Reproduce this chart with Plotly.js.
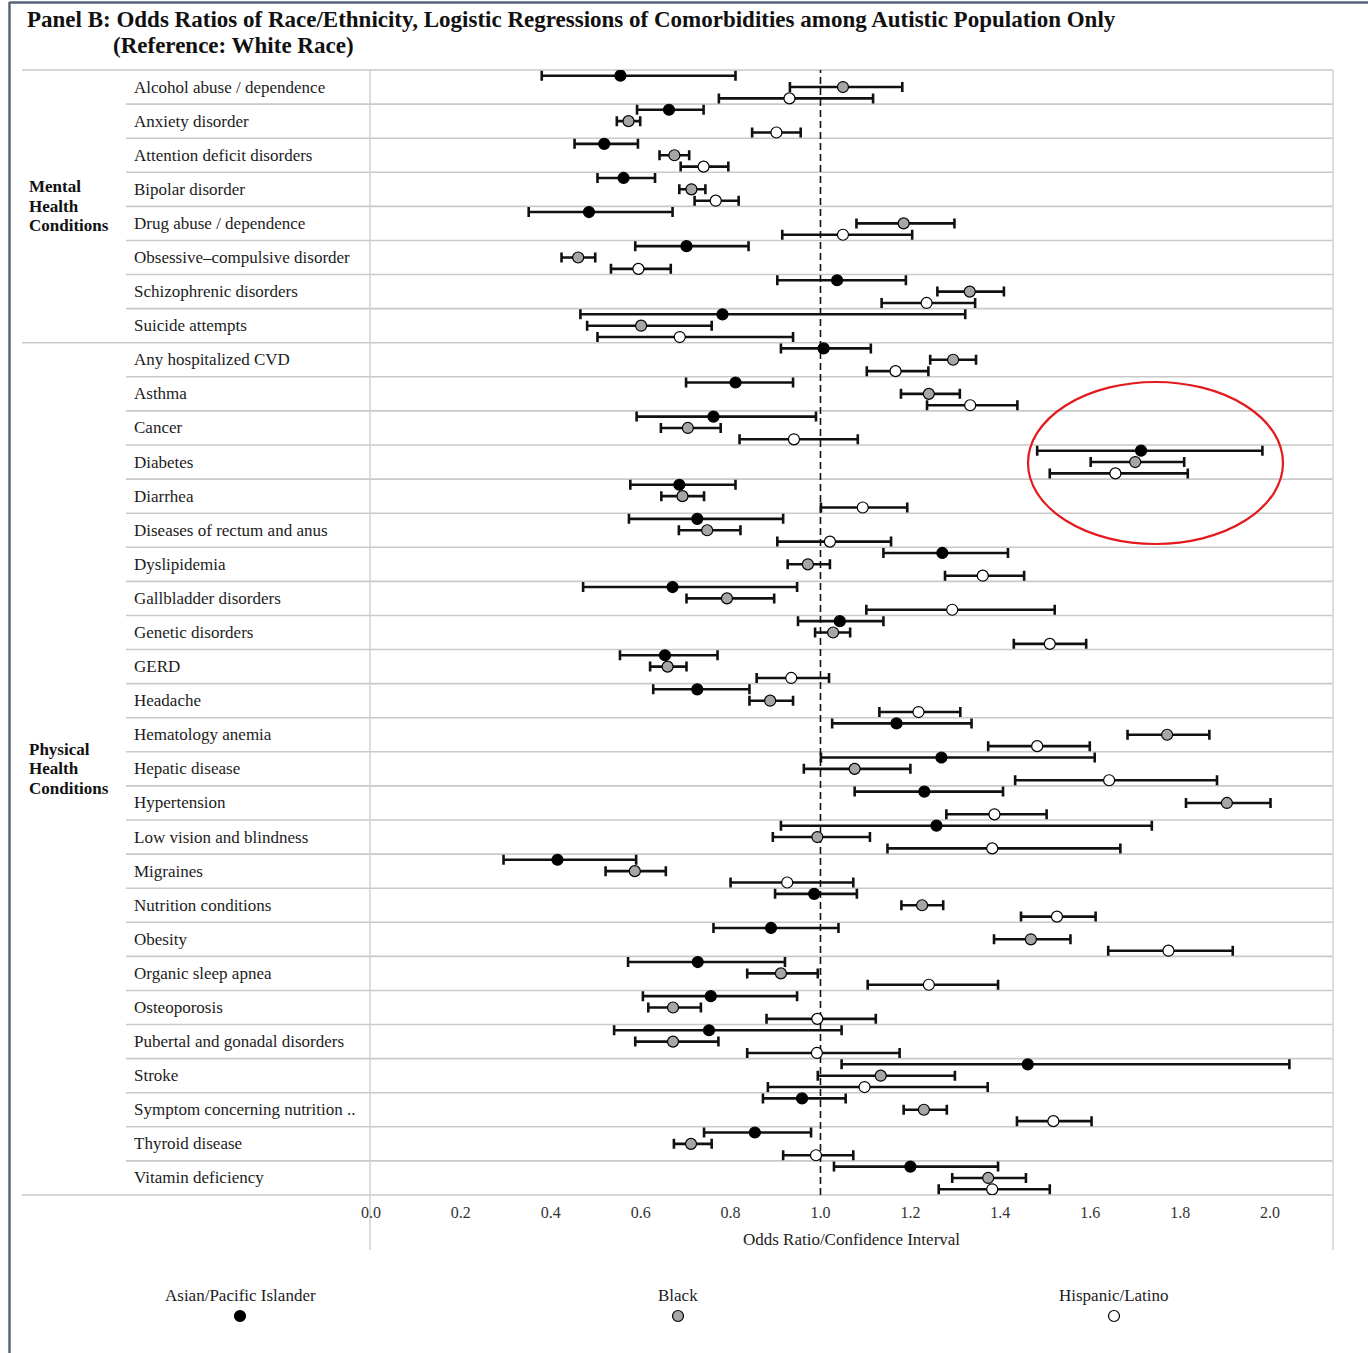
<!DOCTYPE html>
<html><head><meta charset="utf-8">
<script src="https://cdn.plot.ly/plotly-3.0.1.min.js"></script>
<style>html,body{margin:0;padding:0;background:#fff}#chart{width:1368px;height:1353px}</style>
</head><body><div id="chart"></div>
<script>
const conditions = ["Alcohol abuse / dependence","Anxiety disorder","Attention deficit disorders","Bipolar disorder","Drug abuse / dependence","Obsessive\u2013compulsive disorder","Schizophrenic disorders","Suicide attempts","Any hospitalized CVD","Asthma","Cancer","Diabetes","Diarrhea","Diseases of rectum and anus","Dyslipidemia","Gallbladder disorders","Genetic disorders","GERD","Headache","Hematology anemia","Hepatic disease","Hypertension","Low vision and blindness","Migraines","Nutrition conditions","Obesity","Organic sleep apnea","Osteoporosis","Pubertal and gonadal disorders","Stroke","Symptom concerning nutrition ..","Thyroid disease","Vitamin deficiency"];
const groupNames = ["Mental<br>Health<br>Conditions","Physical<br>Health<br>Conditions"];
const groupSizes = [8, 25];
const seriesNames = ["Asian/Pacific Islander","Black","Hispanic/Latino"];

const asianOR = [0.555,0.663,0.519,0.562,0.485,0.702,1.037,0.782,1.007,0.811,0.762,1.713,0.686,0.726,1.271,0.671,1.043,0.654,0.726,1.169,1.269,1.231,1.258,0.415,0.986,0.890,0.727,0.756,0.752,1.461,0.959,0.854,1.200];
const asianLo = [0.380,0.592,0.453,0.504,0.351,0.588,0.904,0.466,0.912,0.701,0.591,1.482,0.577,0.574,1.140,0.472,0.950,0.554,0.628,1.026,1.001,1.076,0.912,0.295,0.899,0.762,0.572,0.605,0.541,1.047,0.872,0.741,1.030];
const asianHi = [0.811,0.740,0.594,0.632,0.671,0.840,1.190,1.322,1.112,0.939,0.990,1.983,0.811,0.917,1.417,0.948,1.140,0.771,0.842,1.336,1.610,1.406,1.737,0.590,1.081,1.040,0.921,0.948,1.047,2.043,1.056,0.979,1.395];

const blackOR = [1.050,0.573,0.675,0.713,1.185,0.461,1.332,0.601,1.295,1.241,0.705,1.700,0.693,0.748,0.972,0.792,1.028,0.660,0.888,1.771,1.076,1.904,0.993,0.587,1.226,1.468,0.912,0.672,0.672,1.134,1.230,0.712,1.373];
const blackLo = [0.932,0.547,0.642,0.686,1.080,0.424,1.260,0.481,1.244,1.179,0.645,1.601,0.646,0.685,0.927,0.702,0.988,0.621,0.842,1.683,0.963,1.813,0.894,0.522,1.180,1.386,0.837,0.617,0.588,0.994,1.185,0.674,1.293];
const blackHi = [1.182,0.599,0.708,0.744,1.298,0.499,1.408,0.758,1.346,1.310,0.778,1.809,0.741,0.822,1.021,0.897,1.066,0.702,0.939,1.865,1.200,2.001,1.110,0.656,1.273,1.556,0.994,0.734,0.773,1.299,1.281,0.758,1.457];

const hispOR = [0.931,0.902,0.740,0.767,1.050,0.595,1.236,0.687,1.167,1.333,0.941,1.656,1.094,1.021,1.361,1.293,1.510,0.935,1.218,1.482,1.642,1.387,1.382,0.926,1.526,1.774,1.241,0.993,0.992,1.098,1.518,0.990,1.382];
const hispLo = [0.774,0.848,0.689,0.720,0.915,0.534,1.136,0.504,1.103,1.237,0.820,1.510,1.001,0.904,1.277,1.102,1.430,0.858,1.131,1.373,1.433,1.280,1.149,0.800,1.446,1.640,1.105,0.880,0.837,0.883,1.437,0.917,1.263];
const hispHi = [1.117,0.956,0.795,0.818,1.204,0.667,1.344,0.939,1.240,1.438,1.083,1.817,1.193,1.157,1.453,1.521,1.591,1.019,1.311,1.599,1.882,1.503,1.667,1.073,1.612,1.917,1.395,1.123,1.176,1.372,1.603,1.073,1.510];

const xTicks = [0.0,0.2,0.4,0.6,0.8,1.0,1.2,1.4,1.6,1.8,2.0];
const referenceOR = 1.0;

// layout geometry (pixels)
const W = 1368, H = 1353, L = 370, R = 1333, T = 70, B = 1195;
const xp = px => (px - L) / (R - L);
const yp = py => 1 - (py - T) / (B - T);
const nRows = conditions.length;
const rowPy = i => T + (B - T) * (i + 0.5) / nRows;

const serif = "Liberation Serif, Times New Roman, serif";
const fills = ["#000000", "#a6a6a6", "#ffffff"];
const offsets = [-1/3, 0, 1/3];
const ORs = [asianOR, blackOR, hispOR], Los = [asianLo, blackLo, hispLo], His = [asianHi, blackHi, hispHi];

const traces = ORs.map((or, s) => ({
  type: "scatter", mode: "markers", name: seriesNames[s], showlegend: false,
  x: or,
  y: or.map((_, i) => i + offsets[s]),
  error_x: {type: "data", symmetric: false,
    array: or.map((v, i) => His[s][i] - v),
    arrayminus: or.map((v, i) => v - Los[s][i]),
    color: "#111", thickness: 2.6, width: 5},
  marker: {size: 11, color: fills[s], line: {color: "#000", width: 1.2}},
  hoverinfo: "x+y"
}));

const shapes = [];
const annotations = [];
// row separators
for (let i = 1; i < nRows; i++) {
  const isGroup = (i === groupSizes[0]);
  shapes.push({type: "line", xref: "paper", yref: "paper",
    x0: xp(isGroup ? 22 : 126), x1: 1, y0: 1 - i / nRows, y1: 1 - i / nRows,
    line: {color: "#c9c9c9", width: 1.6}, layer: "below"});
}
// top and bottom group lines
[0, 1].forEach(v => shapes.push({type: "line", xref: "paper", yref: "paper",
  x0: xp(22), x1: 1, y0: v, y1: v, line: {color: "#c9c9c9", width: 1.6}, layer: "below"}));
// vertical frame lines
[0, 1].forEach(v => shapes.push({type: "line", xref: "paper", yref: "paper",
  x0: v, x1: v, y0: 1, y1: yp(1250), line: {color: "#cfcfcf", width: 1.4}, layer: "below"}));
// reference dashed line
shapes.push({type: "line", xref: "x", yref: "paper", x0: referenceOR, x1: referenceOR, y0: 0, y1: 1,
  line: {color: "#111", width: 1.6, dash: "7px,4px"}, layer: "below"});
// outer image border
shapes.push({type: "line", xref: "paper", yref: "paper", x0: xp(9.5), x1: xp(9.5), y0: yp(2), y1: yp(1353),
  line: {color: "#55647a", width: 2.5}});
shapes.push({type: "line", xref: "paper", yref: "paper", x0: xp(9.5), x1: xp(1368), y0: yp(2.5), y1: yp(2.5),
  line: {color: "#55647a", width: 2.5}});
// highlight ellipse around Diabetes
shapes.push({type: "circle", xref: "paper", yref: "paper",
  x0: xp(1028), x1: xp(1283), y0: yp(382), y1: yp(544),
  line: {color: "#e3191c", width: 2.2}});

// row labels
conditions.forEach((c, i) => annotations.push({
  xref: "paper", yref: "paper", x: xp(132), y: yp(rowPy(i)), xanchor: "left", yanchor: "middle",
  text: c, showarrow: false, font: {family: serif, size: 17, color: "#1c1c1c"}
}));
// group labels (one annotation per line for tighter line spacing)
let start = 0;
groupNames.forEach((g, k) => {
  const end = start + groupSizes[k];
  const cy = T + (B - T) * ((start + end) / 2) / nRows;
  const lines = g.split("<br>");
  lines.forEach((ln, j) => {
    annotations.push({xref: "paper", yref: "paper", x: xp(27), y: yp(cy + (j - (lines.length - 1) / 2) * 19.5),
      xanchor: "left", yanchor: "middle", text: "<b>" + ln + "</b>", showarrow: false,
      font: {family: serif, size: 17, color: "#111"}});
  });
  start = end;
});
// title
annotations.push({xref: "paper", yref: "paper", x: xp(25), y: yp(19), xanchor: "left", yanchor: "middle",
  text: "<b>Panel B: Odds Ratios of Race/Ethnicity, Logistic Regressions of Comorbidities among Autistic Population Only</b>",
  showarrow: false, font: {family: serif, size: 23, color: "#111"}});
annotations.push({xref: "paper", yref: "paper", x: xp(111), y: yp(45), xanchor: "left", yanchor: "middle",
  text: "<b>(Reference: White Race)</b>", showarrow: false, font: {family: serif, size: 23, color: "#111"}});
// legend
const legendX = [240, 678, 1114];
seriesNames.forEach((n, s) => {
  annotations.push({xref: "paper", yref: "paper", x: xp(legendX[s]), y: yp(1295), xanchor: "center", yanchor: "middle",
    text: n, showarrow: false, font: {family: serif, size: 17, color: "#1c1c1c"}});
  shapes.push({type: "circle", xref: "paper", yref: "paper",
    x0: xp(legendX[s] - 5.5), x1: xp(legendX[s] + 5.5), y0: yp(1310.5), y1: yp(1321.5),
    fillcolor: fills[s], line: {color: "#000", width: 1.2}});
});

const layout = {
  width: W, height: H,
  margin: {l: L, r: W - R, t: T, b: H - B, pad: 0},
  paper_bgcolor: "#fff", plot_bgcolor: "rgba(0,0,0,0)",
  showlegend: false,
  xaxis: {range: [-0.002, 2.14], tickvals: xTicks, ticktext: xTicks.map(v => v.toFixed(1)),
    showgrid: false, zeroline: false, showline: false, ticks: "",
    tickfont: {family: serif, size: 16, color: "#333"}, ticklabelstandoff: 6,
    title: {text: "Odds Ratio/Confidence Interval", font: {family: serif, size: 17, color: "#222"}, standoff: 13}},
  yaxis: {range: [nRows - 0.5, -0.5], showgrid: false, zeroline: false, showline: false,
    showticklabels: false, ticks: ""},
  shapes: shapes, annotations: annotations
};

Plotly.newPlot("chart", traces, layout, {displayModeBar: false, staticPlot: true});
</script>
</body></html>
